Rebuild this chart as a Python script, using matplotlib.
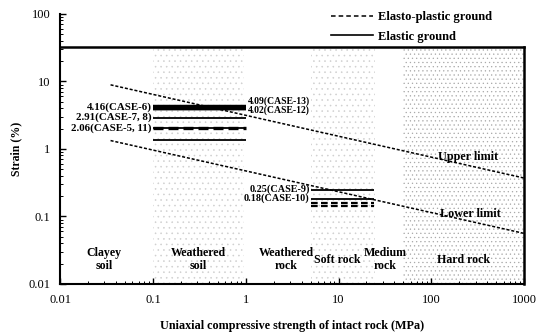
import matplotlib
matplotlib.use("Agg")
import matplotlib.pyplot as plt
from matplotlib.lines import Line2D
from matplotlib.ticker import LogLocator, NullFormatter, FixedLocator, FixedFormatter

plt.rcParams['font.family'] = ['Liberation Serif', 'DejaVu Serif']
plt.rcParams['hatch.linewidth'] = 0.4

# ---- data ----
limit_x = [0.035, 1000]
upper_y = [8.9, 0.37]
lower_y = [1.33, 0.056]

# weathered soil cases (0.1 - 1 MPa)
soil_x = [0.1, 1.0]
soil_solid = [4.16, 4.09, 4.02, 2.91, 2.06, 1.36]
soil_dashed = [2.06]

# soft rock cases (5 - 24 MPa)
rock_x = [5.0, 24.0]
rock_solid = [0.25, 0.18]
rock_dashed = [0.158, 0.143]

# stippled strength zones (x range, colour, hatch)
zones = [(0.1, 0.95, '#cfcfcf', '...'), (5.0, 25.0, '#cfcfcf', '...'),
         (50.0, 1000.0, '#a8a8a8', '....')]
box_top = 32

left_labels = [(4.16, '4.16(CASE-6)'), (2.91, '2.91(CASE-7, 8)'), (2.06, '2.06(CASE-5, 11)')]
right_labels = [(5.15, '4.09(CASE-13)'), (3.75, '4.02(CASE-12)')]
rock_labels = [(0.255, '0.25(CASE-9)'), (0.188, '0.18(CASE-10)')]
region_labels = [(0.03, 'Clayey\nsoil'), (0.31, 'Weathered\nsoil'), (2.75, 'Weathered\nrock'),
                 (9.8, 'Soft rock'), (32, 'Medium\nrock'), (220, 'Hard rock')]

fig = plt.figure(figsize=(5.46, 3.36), dpi=100)
ax = fig.add_axes([0.110, 0.155, 0.850, 0.8036])
ax.set_xscale('log')
ax.set_yscale('log')
ax.set_xlim(0.01, 1000)
ax.set_ylim(0.01, 100)

# stipple zones
for x0, x1, c, h in zones:
    ax.fill_between([x0, x1], 0.01, box_top, facecolor='none', edgecolor=c,
                    hatch=h, linewidth=0, zorder=0)

# limit lines
ax.plot(limit_x, upper_y, color='black', lw=1.1, dashes=(2, 1.2))
ax.plot(limit_x, lower_y, color='black', lw=1.1, dashes=(2, 1.2))

for y in soil_solid:
    ax.hlines(y, *soil_x, color='black', lw=3.2 if y > 4 else 1.3)
for y in soil_dashed:
    ax.hlines(y, *soil_x, color='black', lw=2.4, linestyles=(0, (3, 1.5)))
for y in rock_solid:
    ax.hlines(y, *rock_x, color='black', lw=1.3)
for y in rock_dashed:
    ax.hlines(y, *rock_x, color='black', lw=1.6, linestyles=(0, (3, 1.5)))

for y, t in left_labels:
    ax.text(0.097, y, t, ha='right', va='center', fontweight='bold', fontsize=7.8)
for y, t in right_labels:
    ax.text(1.05, y, t, ha='left', va='center', fontweight='bold', fontsize=7)
for y, t in rock_labels:
    ax.text(4.9, y, t, ha='right', va='center', fontweight='bold', fontsize=7.3)
for x, t in region_labels:
    ax.text(x, 0.023, t, ha='center', va='center', fontweight='bold', fontsize=8.6,
            multialignment='center', linespacing=1.1)
ax.text(250, 0.76, 'Upper limit', ha='center', va='center', fontweight='bold', fontsize=8.7)
ax.text(263, 0.109, 'Lower limit', ha='center', va='center', fontweight='bold', fontsize=8.7)

# frame: left/bottom spines, box closed at y=32
for s in ['top', 'right']:
    ax.spines[s].set_visible(False)
for s in ['left', 'bottom']:
    ax.spines[s].set_linewidth(1.5)
ax.plot([0.01, 1000], [box_top, box_top], color='black', lw=1.8, clip_on=False)
ax.plot([1000, 1000], [0.01, box_top], color='black', lw=1.8, clip_on=False)

ax.xaxis.set_major_locator(FixedLocator([0.01, 0.1, 1, 10, 100, 1000]))
ax.xaxis.set_major_formatter(FixedFormatter(['0.01', '0.1', '1', '10', '100', '1000']))
ax.yaxis.set_major_locator(FixedLocator([0.01, 0.1, 1, 10, 100]))
ax.yaxis.set_major_formatter(FixedFormatter(['0.01', '0.1', '1', '10', '100']))
for a in (ax.xaxis, ax.yaxis):
    a.set_minor_locator(LogLocator(base=10, subs=range(2, 10)))
    a.set_minor_formatter(NullFormatter())
ax.tick_params(which='major', direction='in', length=4, width=1, labelsize=9, pad=7)
ax.tick_params(which='minor', direction='in', length=2, width=0.7)

ax.set_xlabel('Uniaxial compressive strength of intact rock (MPa)', fontweight='bold',
              fontsize=8.7, labelpad=10)
ax.set_ylabel('Strain (%)', fontweight='bold', fontsize=8.5, labelpad=4)

handles = [Line2D([], [], color='black', lw=1.1, dashes=(3, 2)),
           Line2D([], [], color='black', lw=1.2)]
fig.legend(handles, ['Elasto-plastic ground', 'Elastic ground'], loc='upper left',
           bbox_to_anchor=(0.585, 1.0), frameon=False, handlelength=3.4,
           labelspacing=0.6, handletextpad=0.4, prop={'weight': 'bold', 'size': 9})

fig.savefig('out.png', dpi=100)
